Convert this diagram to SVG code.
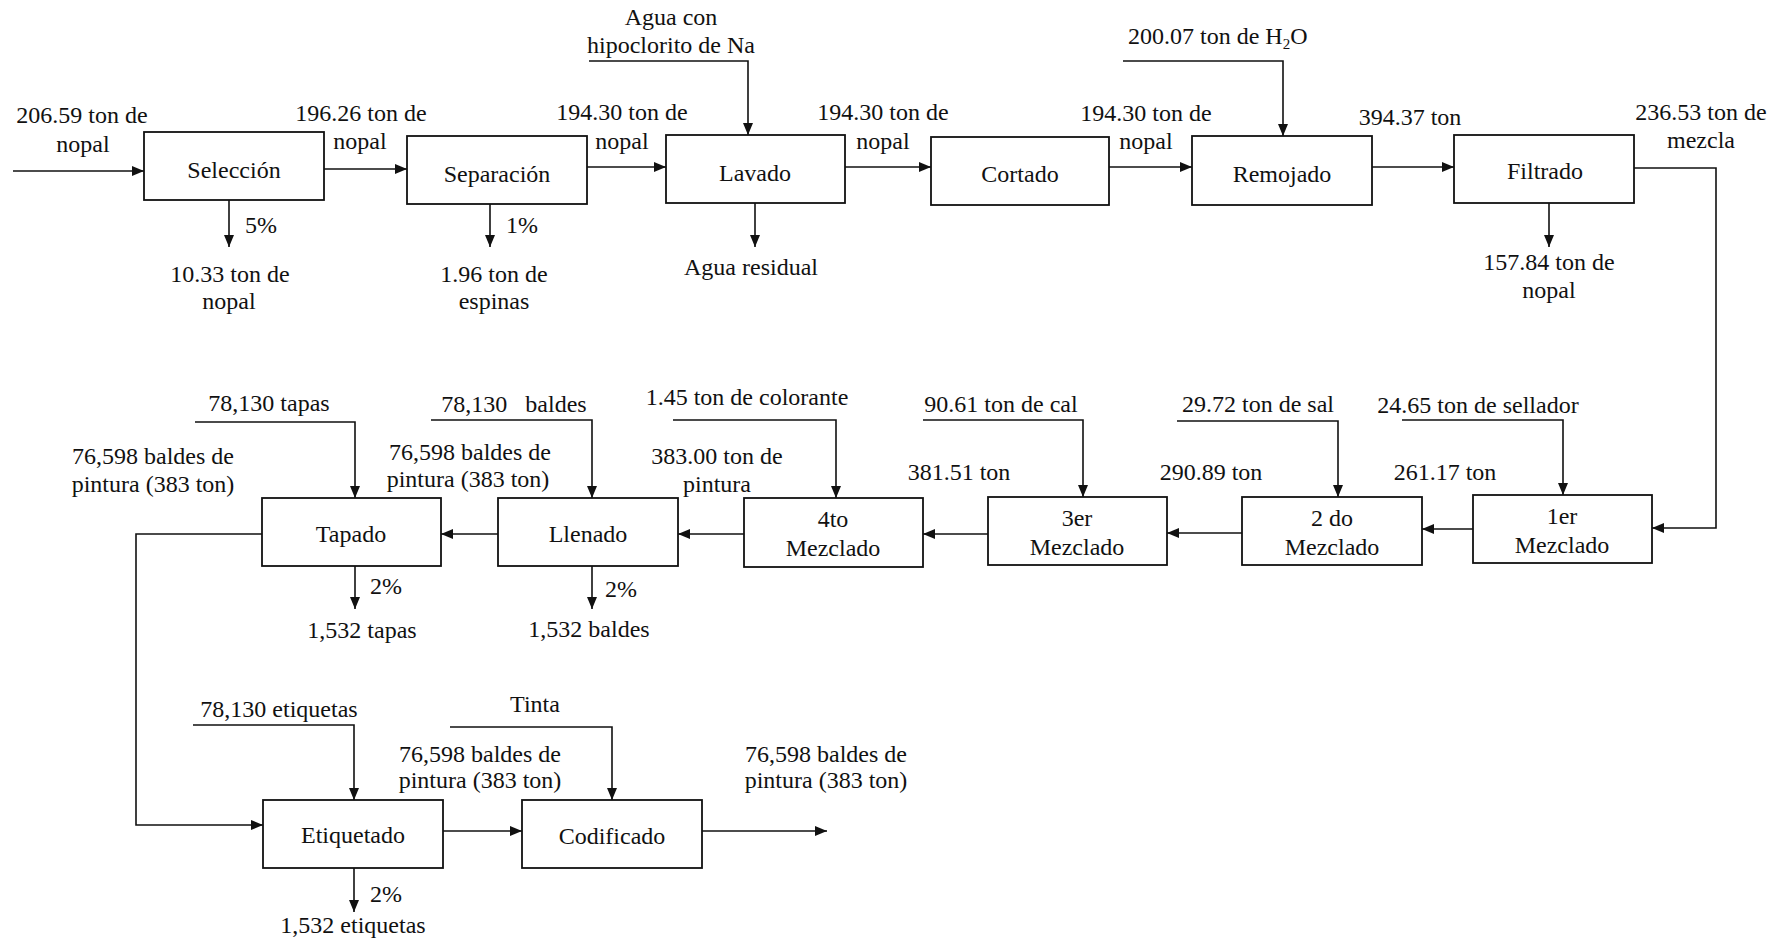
<svg xmlns="http://www.w3.org/2000/svg" width="1780" height="939" viewBox="0 0 1780 939">
  <style>
    .box { fill: #fff; stroke: #111; stroke-width: 1.8; }
    .wire { fill: none; stroke: #111; stroke-width: 1.6; }
    text { font-family: "Liberation Serif", "Times New Roman", serif; font-size: 24px; fill: #111; }
    .c { text-anchor: middle; }
  </style>
  <defs>
    <marker id="ah" markerWidth="12" markerHeight="10" refX="12" refY="5" orient="auto" markerUnits="userSpaceOnUse">
      <path d="M0,0 L12,5 L0,10 z" fill="#111"/>
    </marker>
  </defs>
  <rect width="1780" height="939" fill="#fff"/>

  <!-- connectors -->
  <g id="connectors" class="wire" marker-end="url(#ah)">
    <!-- row 1: main flow -->
    <path d="M13,171 H144"/>
    <path d="M324,169 H407"/>
    <path d="M587,167 H666"/>
    <path d="M845,167 H931"/>
    <path d="M1109,167 H1192"/>
    <path d="M1372,167 H1454"/>
    <path d="M1634,168 H1716 V528 H1652"/>
    <!-- row 1: feeds and discharges -->
    <path d="M589,61 H748 V135"/>
    <path d="M1123,61 H1283 V136"/>
    <path d="M229,200 V247"/>
    <path d="M490,204 V247"/>
    <path d="M755,203 V247"/>
    <path d="M1549,203 V247"/>
    <!-- row 2: mixing and packing -->
    <path d="M1473,529 H1422"/>
    <path d="M1242,533 H1167"/>
    <path d="M988,534 H923"/>
    <path d="M744,534 H678"/>
    <path d="M498,534 H441"/>
    <path d="M262,534 H136 V825 H263"/>
    <path d="M1402,420 H1563 V495"/>
    <path d="M1177,421 H1338 V497"/>
    <path d="M923,420 H1083 V497"/>
    <path d="M673,420 H836 V498"/>
    <path d="M431,420 H592 V498"/>
    <path d="M195,422 H355 V498"/>
    <path d="M355,566 V609"/>
    <path d="M592,566 V609"/>
    <!-- row 3: labelling and coding -->
    <path d="M193,725 H354 V800"/>
    <path d="M450,727 H612 V800"/>
    <path d="M443,831 H522"/>
    <path d="M702,831 H827"/>
    <path d="M354,868 V912"/>
  </g>

  <!-- process nodes -->
  <g id="seleccion"><rect class="box" x="144" y="132" width="180" height="68"/><text class="c" x="234" y="178">Selección</text></g>
  <g id="separacion"><rect class="box" x="407" y="136" width="180" height="68"/><text class="c" x="497" y="182">Separación</text></g>
  <g id="lavado"><rect class="box" x="666" y="135" width="179" height="68"/><text class="c" x="755" y="181">Lavado</text></g>
  <g id="cortado"><rect class="box" x="931" y="137" width="178" height="68"/><text class="c" x="1020" y="182">Cortado</text></g>
  <g id="remojado"><rect class="box" x="1192" y="136" width="180" height="69"/><text class="c" x="1282" y="182">Remojado</text></g>
  <g id="filtrado"><rect class="box" x="1454" y="135" width="180" height="68"/><text class="c" x="1545" y="179">Filtrado</text></g>

  <g id="mezclado1"><rect class="box" x="1473" y="495" width="179" height="68"/><text class="c" x="1562" y="524">1er</text><text class="c" x="1562" y="553">Mezclado</text></g>
  <g id="mezclado2"><rect class="box" x="1242" y="497" width="180" height="68"/><text class="c" x="1332" y="526">2 do</text><text class="c" x="1332" y="555">Mezclado</text></g>
  <g id="mezclado3"><rect class="box" x="988" y="497" width="179" height="68"/><text class="c" x="1077" y="526">3er</text><text class="c" x="1077" y="555">Mezclado</text></g>
  <g id="mezclado4"><rect class="box" x="744" y="498" width="179" height="69"/><text class="c" x="833" y="527">4to</text><text class="c" x="833" y="556">Mezclado</text></g>
  <g id="llenado"><rect class="box" x="498" y="498" width="180" height="68"/><text class="c" x="588" y="542">Llenado</text></g>
  <g id="tapado"><rect class="box" x="262" y="498" width="179" height="68"/><text class="c" x="351" y="542">Tapado</text></g>

  <g id="etiquetado"><rect class="box" x="263" y="800" width="180" height="68"/><text class="c" x="353" y="843">Etiquetado</text></g>
  <g id="codificado"><rect class="box" x="522" y="800" width="180" height="68"/><text class="c" x="612" y="844">Codificado</text></g>

  <!-- stream labels -->
  <g id="labels">
    <text class="c" x="82" y="123">206.59 ton de</text><text class="c" x="83" y="152">nopal</text>
    <text class="c" x="361" y="121">196.26 ton de</text><text class="c" x="360" y="149">nopal</text>
    <text class="c" x="622" y="120">194.30 ton de</text><text class="c" x="622" y="149">nopal</text>
    <text class="c" x="883" y="120">194.30 ton de</text><text class="c" x="883" y="149">nopal</text>
    <text class="c" x="1146" y="121">194.30 ton de</text><text class="c" x="1146" y="149">nopal</text>
    <text class="c" x="1410" y="125">394.37 ton</text>
    <text class="c" x="1701" y="120">236.53 ton de</text><text class="c" x="1701" y="148">mezcla</text>
    <text class="c" x="671" y="25">Agua con</text><text class="c" x="671" y="53">hipoclorito de Na</text>
    <text x="1128" y="44">200.07 ton de H<tspan font-size="15" dy="5">2</tspan><tspan dy="-5">O</tspan></text>

    <text x="245" y="233">5%</text>
    <text class="c" x="230" y="282">10.33 ton de</text><text class="c" x="229" y="309">nopal</text>
    <text x="506" y="233">1%</text>
    <text class="c" x="494" y="282">1.96 ton de</text><text class="c" x="494" y="309">espinas</text>
    <text class="c" x="751" y="275">Agua residual</text>
    <text class="c" x="1549" y="270">157.84 ton de</text><text class="c" x="1549" y="298">nopal</text>

    <text class="c" x="1478" y="413">24.65 ton de sellador</text>
    <text class="c" x="1445" y="480">261.17 ton</text>
    <text class="c" x="1258" y="412">29.72 ton de sal</text>
    <text class="c" x="1211" y="480">290.89 ton</text>
    <text class="c" x="1001" y="412">90.61 ton de cal</text>
    <text class="c" x="959" y="480">381.51 ton</text>
    <text class="c" x="747" y="405">1.45 ton de colorante</text>
    <text class="c" x="717" y="464">383.00 ton de</text><text class="c" x="717" y="492">pintura</text>
    <text class="c" x="514" y="412" xml:space="preserve">78,130   baldes</text>
    <text class="c" x="470" y="460">76,598 baldes de</text><text class="c" x="468" y="487">pintura (383 ton)</text>
    <text class="c" x="269" y="411">78,130 tapas</text>
    <text class="c" x="153" y="464">76,598 baldes de</text><text class="c" x="153" y="492">pintura (383 ton)</text>
    <text x="370" y="594">2%</text>
    <text class="c" x="362" y="638">1,532 tapas</text>
    <text x="605" y="597">2%</text>
    <text class="c" x="589" y="637">1,532 baldes</text>

    <text class="c" x="279" y="717">78,130 etiquetas</text>
    <text class="c" x="535" y="712">Tinta</text>
    <text class="c" x="480" y="762">76,598 baldes de</text><text class="c" x="480" y="788">pintura (383 ton)</text>
    <text class="c" x="826" y="762">76,598 baldes de</text><text class="c" x="826" y="788">pintura (383 ton)</text>
    <text x="370" y="902">2%</text>
    <text class="c" x="353" y="933">1,532 etiquetas</text>
  </g>
</svg>
